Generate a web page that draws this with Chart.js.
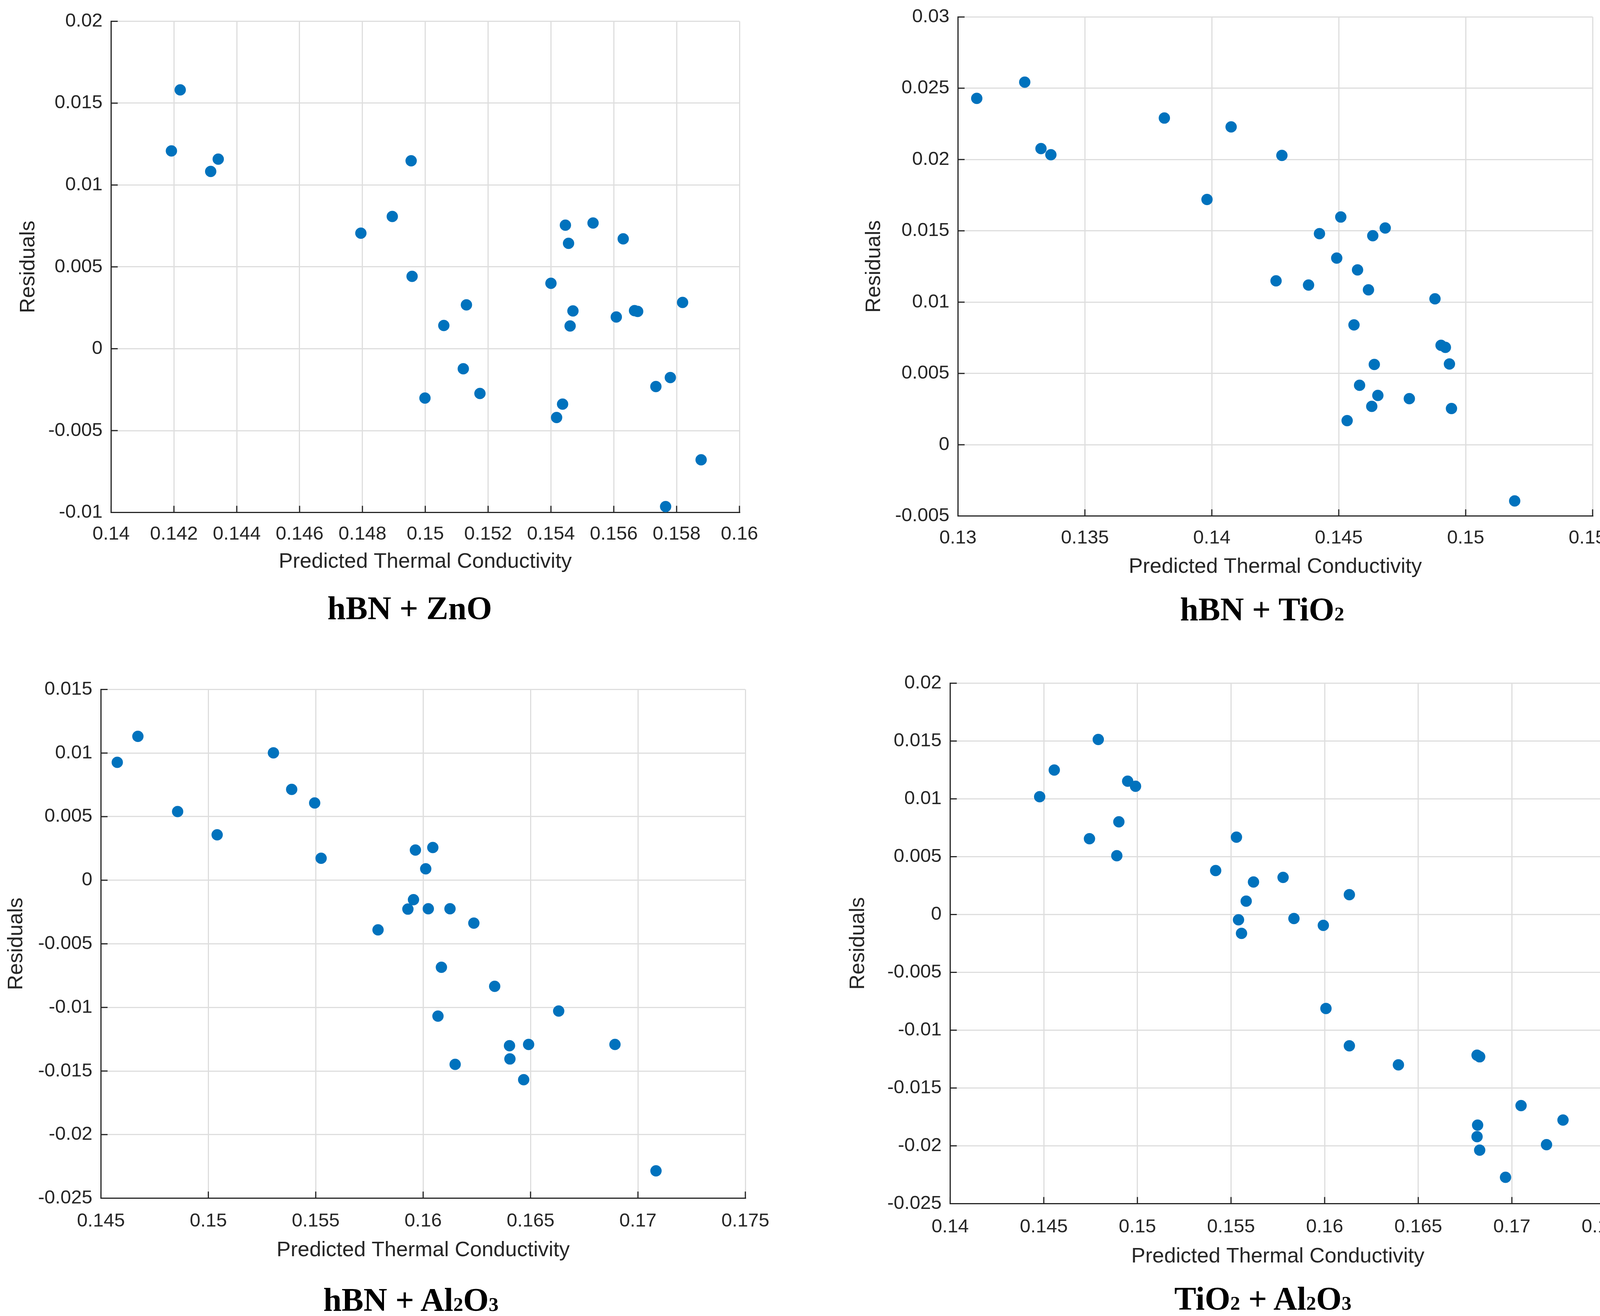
<!DOCTYPE html>
<html>
<head>
<meta charset="utf-8">
<script src="https://cdn.jsdelivr.net/npm/chart.js@4.4.1/dist/chart.umd.min.js"></script>
<style>
  html, body { margin: 0; padding: 0; background: #fff; }
  body { width: 4208px; height: 3368px; position: relative; overflow: hidden; }
  canvas { position: absolute; }
  .caption {
    position: absolute;
    transform: translate(-50%, -50%);
    font: bold 84px "Liberation Serif", "Times New Roman", serif;
    color: #000;
    white-space: nowrap;
    line-height: 1;
  }
  .caption .s { font-size: 0.6em; }
</style>
</head>
<body>
<canvas id="c1"></canvas>
<canvas id="c2"></canvas>
<canvas id="c3"></canvas>
<canvas id="c4"></canvas>
<div class="caption" style="left:1049px; top:1557px">hBN + ZnO</div>
<div class="caption" style="left:3231px; top:1560px">hBN + TiO<span class="s">2</span></div>
<div class="caption" style="left:1052px; top:3327px">hBN + Al<span class="s">2</span>O<span class="s">3</span></div>
<div class="caption" style="left:3233px; top:3324px">TiO<span class="s">2</span> + Al<span class="s">2</span>O<span class="s">3</span></div>
<script>
// --- Data ---
const xTitle = "Predicted Thermal Conductivity";
const yTitle = "Residuals";

// hBN + ZnO
const znoX = [0.14192, 0.14220, 0.14317, 0.14341, 0.14795, 0.14895, 0.14955, 0.14958, 0.14999, 0.15059,
  0.15121, 0.15131, 0.15174, 0.15400, 0.15418, 0.15437, 0.15446, 0.15456, 0.15461, 0.15470,
  0.15534, 0.15608, 0.15630, 0.15666, 0.15676, 0.15734, 0.15780, 0.15765, 0.15819, 0.15878];
const znoY = [0.01208, 0.01581, 0.01083, 0.01158, 0.00706, 0.00808, 0.01148, 0.00442, -0.00301, 0.00142,
  -0.00122, 0.00268, -0.00273, 0.00400, -0.00420, -0.00338, 0.00755, 0.00644, 0.00139, 0.00231,
  0.00768, 0.00194, 0.00671, 0.00233, 0.00228, -0.00231, -0.00176, -0.00964, 0.00283, -0.00678];
const znoXTicks = [0.14, 0.142, 0.144, 0.146, 0.148, 0.15, 0.152, 0.154, 0.156, 0.158, 0.16];
const znoYTicks = [-0.01, -0.005, 0, 0.005, 0.01, 0.015, 0.02];

// hBN + TiO2
const tio2X = [0.13074, 0.13263, 0.13327, 0.13366, 0.13813, 0.13981, 0.14076, 0.14253, 0.14276, 0.14381,
  0.14424, 0.14492, 0.14508, 0.14533, 0.14560, 0.14574, 0.14582, 0.14617, 0.14630, 0.14634,
  0.14640, 0.14654, 0.14683, 0.14778, 0.14879, 0.14903, 0.14920, 0.14936, 0.14944, 0.15193];
const tio2Y = [0.02429, 0.02543, 0.02077, 0.02034, 0.02291, 0.01720, 0.02229, 0.01149, 0.02029, 0.01120,
  0.01480, 0.01309, 0.01597, 0.00169, 0.00840, 0.01226, 0.00417, 0.01086, 0.00269, 0.01466,
  0.00563, 0.00346, 0.01520, 0.00323, 0.01023, 0.00697, 0.00683, 0.00566, 0.00254, -0.00394];
const tio2XTicks = [0.13, 0.135, 0.14, 0.145, 0.15, 0.155];
const tio2YTicks = [-0.005, 0, 0.005, 0.01, 0.015, 0.02, 0.025, 0.03];

// hBN + Al2O3
const al2o3X = [0.14576, 0.14672, 0.14857, 0.15041, 0.15303, 0.15388, 0.15495, 0.15525, 0.15790, 0.15929,
  0.15955, 0.15964, 0.16012, 0.16024, 0.16045, 0.16069, 0.16085, 0.16125, 0.16149, 0.16236,
  0.16333, 0.16402, 0.16404, 0.16468, 0.16491, 0.16631, 0.16893, 0.17084];
const al2o3Y = [0.00927, 0.01131, 0.00540, 0.00357, 0.01001, 0.00714, 0.00607, 0.00173, -0.00390, -0.00227,
  -0.00153, 0.00237, 0.00090, -0.00224, 0.00257, -0.01068, -0.00684, -0.00224, -0.01448, -0.00337,
  -0.00834, -0.01301, -0.01405, -0.01568, -0.01291, -0.01028, -0.01291, -0.02285];
const al2o3XTicks = [0.145, 0.15, 0.155, 0.16, 0.165, 0.17, 0.175];
const al2o3YTicks = [-0.025, -0.02, -0.015, -0.01, -0.005, 0, 0.005, 0.01, 0.015];

// TiO2 + Al2O3
const mixX = [0.14478, 0.14556, 0.14744, 0.14791, 0.14890, 0.14901, 0.14948, 0.14990, 0.15418, 0.15529,
  0.15540, 0.15556, 0.15581, 0.15620, 0.15778, 0.15836, 0.15993, 0.16007, 0.16132, 0.16132,
  0.16394, 0.16814, 0.16828, 0.16817, 0.16814, 0.16828, 0.16966, 0.17049, 0.17185, 0.17273];
const mixY = [0.01018, 0.01249, 0.00655, 0.01513, 0.00508, 0.00801, 0.01153, 0.01109, 0.00380, 0.00669,
  -0.00046, -0.00163, 0.00116, 0.00281, 0.00321, -0.00035, -0.00094, -0.00812, 0.00171, -0.01135,
  -0.01300, -0.01216, -0.01230, -0.01821, -0.01920, -0.02037, -0.02272, -0.01652, -0.01990, -0.01777];
const mixXTicks = [0.14, 0.145, 0.15, 0.155, 0.16, 0.165, 0.17, 0.175];
const mixYTicks = [-0.025, -0.02, -0.015, -0.01, -0.005, 0, 0.005, 0.01, 0.015, 0.02];

// --- Styles ---
const BLUE = "#0072BD";
const TEXT = "#262626";
const AXIS = "#262626";
const GRID = "#dedede";
const FONT = '"Liberation Sans", Arial, Helvetica, sans-serif';
const TITLE_SIZE = 54;
const TICK_SIZE = 49;

// Plot rectangles and label positions on the page (pixels)
const panels = [
  { id: "c1", xs: znoX, ys: znoY, xt: znoXTicks, yt: znoYTicks,
    l: 284, r: 1893, t: 43, b: 1312, yTitleX: 73, xTitleY: 1439, xLabelY: 1368 },
  { id: "c2", xs: tio2X, ys: tio2Y, xt: tio2XTicks, yt: tio2YTicks,
    l: 2452, r: 4086, t: 32, b: 1321, yTitleX: 2238, xTitleY: 1452, xLabelY: 1378 },
  { id: "c3", xs: al2o3X, ys: al2o3Y, xt: al2o3XTicks, yt: al2o3YTicks,
    l: 258, r: 1919, t: 1753, b: 3067, yTitleX: 42, xTitleY: 3201, xLabelY: 3126 },
  { id: "c4", xs: mixX, ys: mixY, xt: mixXTicks, yt: mixYTicks,
    l: 2432, r: 4122, t: 1737, b: 3081, yTitleX: 2197, xTitleY: 3217, xLabelY: 3141 },
];

// MATLAB-style ticks pointing into the plot
const inwardTicks = {
  id: "inwardTicks",
  afterDatasetsDraw(chart) {
    const { ctx, chartArea: a, scales } = chart;
    ctx.save();
    ctx.strokeStyle = AXIS;
    ctx.lineWidth = 3;
    ctx.beginPath();
    scales.x.ticks.forEach((t) => {
      const px = scales.x.getPixelForValue(t.value);
      ctx.moveTo(px, a.bottom);
      ctx.lineTo(px, a.bottom - 17);
    });
    scales.y.ticks.forEach((t) => {
      const py = scales.y.getPixelForValue(t.value);
      ctx.moveTo(a.left, py);
      ctx.lineTo(a.left + 17, py);
    });
    ctx.stroke();
    ctx.restore();
  },
};

function makePanel(p) {
  const titleLH = TITLE_SIZE * 1.2;
  const tickLH = TICK_SIZE * 1.2;
  const padTop = 40;
  const padRight = 80;
  const left0 = p.yTitleX - titleLH / 2;
  const yW = p.l - left0;
  const xH = p.xTitleY + titleLH / 2 - p.b;
  const xPad = p.xLabelY - p.b - tickLH / 2;

  const canvas = document.getElementById(p.id);
  const w = Math.round(yW + (p.r - p.l) + padRight);
  const h = Math.round(padTop + (p.b - p.t) + xH);
  canvas.width = w;
  canvas.height = h;
  canvas.style.width = w + "px";
  canvas.style.height = h + "px";
  canvas.style.left = left0 + "px";
  canvas.style.top = p.t - padTop + "px";

  const tickFont = { family: FONT, size: TICK_SIZE, lineHeight: 1.2 };
  const titleFont = { family: FONT, size: TITLE_SIZE, lineHeight: 1.2 };

  new Chart(canvas, {
    type: "scatter",
    data: {
      datasets: [
        {
          data: p.xs.map((v, i) => ({ x: v, y: p.ys[i] })),
          backgroundColor: BLUE,
          borderWidth: 0,
          pointRadius: 14.5,
          pointHoverRadius: 14.5,
          clip: false,
        },
      ],
    },
    options: {
      responsive: false,
      animation: false,
      events: [],
      layout: { padding: { top: padTop, right: padRight, left: 0, bottom: 0 } },
      plugins: { legend: { display: false }, tooltip: { enabled: false } },
      scales: {
        x: {
          type: "linear",
          min: p.xt[0],
          max: p.xt[p.xt.length - 1],
          afterBuildTicks: (s) => { s.ticks = p.xt.map((v) => ({ value: v })); },
          afterFit: (s) => { s.height = xH; },
          grid: { color: GRID, lineWidth: 3, drawTicks: false },
          border: { color: AXIS, width: 3 },
          ticks: {
            padding: xPad, font: tickFont, color: TEXT,
            maxRotation: 0, autoSkip: false,
            callback: (v) => String(v),
          },
          title: { display: true, text: xTitle, font: titleFont, color: TEXT, padding: 0 },
        },
        y: {
          type: "linear",
          min: p.yt[0],
          max: p.yt[p.yt.length - 1],
          afterBuildTicks: (s) => { s.ticks = p.yt.map((v) => ({ value: v })); },
          afterFit: (s) => { s.width = yW; },
          grid: { color: GRID, lineWidth: 3, drawTicks: false },
          border: { color: AXIS, width: 3 },
          ticks: {
            padding: 22, font: tickFont, color: TEXT,
            autoSkip: false,
            callback: (v) => String(v),
          },
          title: { display: true, text: yTitle, font: titleFont, color: TEXT, padding: 0 },
        },
      },
    },
    plugins: [inwardTicks],
  });
}

panels.forEach(makePanel);
</script>
</body>
</html>
